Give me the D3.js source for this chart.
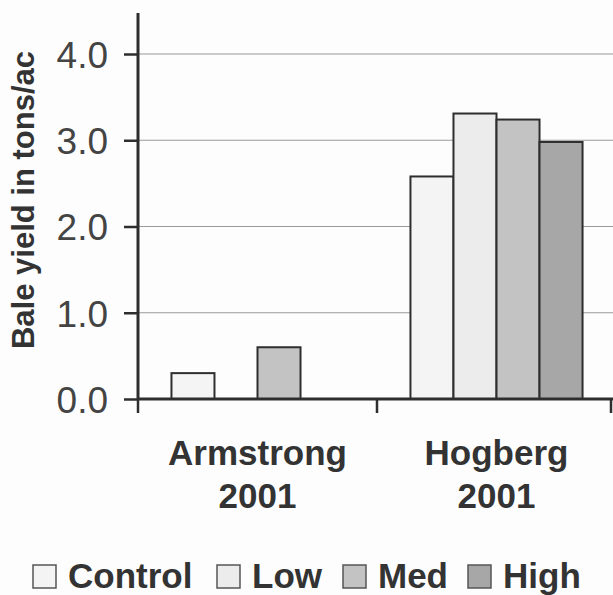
<!DOCTYPE html>
<html><head><meta charset="utf-8">
<script src="https://cdn.jsdelivr.net/npm/d3@7"></script>
<style>html,body{margin:0;padding:0;background:#fdfdfd;}svg{display:block;font-family:"Liberation Sans",Arial,sans-serif;}</style>
</head><body>
<script>
const categories = ["Armstrong 2001", "Hogberg 2001"];
const series = ["Control", "Low", "Med", "High"];
const control = [0.3, 2.58];
const low = [0, 3.31];
const med = [0.6, 3.24];
const high = [0, 2.98];
const yTicks = [0, 1, 2, 3, 4];
const colors = ["#f4f4f4", "#ececec", "#c3c3c3", "#a7a7a7"];

const values = [control, low, med, high];
const W = 613, H = 595;
const svg = d3.select("body").append("svg").attr("width", W).attr("height", H);
svg.append("rect").attr("width", W).attr("height", H).attr("fill", "#fdfdfd");

const x0 = d3.scaleBand().domain(categories).range([138, 616]).paddingInner(0.28).paddingOuter(0.14);
const x1 = d3.scaleBand().domain(series).range([0, x0.bandwidth()]);
const y = d3.scaleLinear().domain([0, 4]).range([399, 54]);

// gridlines
svg.append("g").selectAll("line").data(yTicks.slice(1)).join("line")
  .attr("x1", 138).attr("x2", W).attr("y1", d => y(d)).attr("y2", d => y(d))
  .attr("stroke", "#9a9a9a").attr("stroke-width", 1.2);

// bars
const rows = [];
categories.forEach((c, i) => series.forEach((s, j) => { if (values[j][i] > 0) rows.push({c, s, v: values[j][i], j}); }));
svg.append("g").selectAll("rect").data(rows).join("rect")
  .attr("x", d => x0(d.c) + x1(d.s)).attr("width", x1.bandwidth())
  .attr("y", d => y(d.v)).attr("height", d => y(0) - y(d.v))
  .attr("fill", d => colors[d.j]).attr("stroke", "#2e2e2e").attr("stroke-width", 2);

// y axis
const yAxis = svg.append("g").attr("transform", "translate(138,0)")
  .call(d3.axisLeft(y).tickValues(yTicks).tickFormat(d3.format(".1f")).tickSize(14).tickPadding(16));
yAxis.select(".domain").remove();
yAxis.selectAll(".tick line").attr("stroke", "#2e2e2e").attr("stroke-width", 2.5);
yAxis.selectAll(".tick text").attr("font-size", 37).attr("fill", "#444").attr("dy", "0.36em");
svg.append("line").attr("x1", 138).attr("x2", 138).attr("y1", 13).attr("y2", 400)
  .attr("stroke", "#2e2e2e").attr("stroke-width", 3);

// x axis
svg.append("line").attr("x1", 138).attr("x2", W).attr("y1", 399).attr("y2", 399)
  .attr("stroke", "#2e2e2e").attr("stroke-width", 3);
const xTickPos = [138, x0(categories[1]) - x0.step() * x0.paddingInner() / 2, 611];
svg.append("g").selectAll("line").data(xTickPos).join("line")
  .attr("x1", d => d).attr("x2", d => d).attr("y1", 399).attr("y2", 413)
  .attr("stroke", "#2e2e2e").attr("stroke-width", 2.5);

// category labels
const cl = svg.append("g").selectAll("text").data(categories).join("text")
  .attr("text-anchor", "middle").attr("font-weight", "bold").attr("font-size", 35).attr("fill", "#333")
  .attr("x", d => x0(d) + x0.bandwidth() / 2);
cl.append("tspan").attr("x", d => x0(d) + x0.bandwidth() / 2).attr("y", 465).text(d => d.split(" ")[0]);
cl.append("tspan").attr("x", d => x0(d) + x0.bandwidth() / 2).attr("y", 508).text(d => d.split(" ")[1]);

// y title
svg.append("text").attr("transform", "translate(34,200) rotate(-90)")
  .attr("text-anchor", "middle").attr("font-weight", "bold").attr("font-size", 31).attr("fill", "#333")
  .text("Bale yield in tons/ac");

// legend
const legX = [33, 217, 343, 468];
const leg = svg.append("g").selectAll("g").data(series).join("g")
  .attr("transform", (d, i) => `translate(${legX[i]},565)`);
leg.append("rect").attr("width", 23).attr("height", 23).attr("fill", (d, i) => colors[i])
  .attr("stroke", "#555").attr("stroke-width", 1.5);
leg.append("text").attr("x", 35).attr("y", 23).attr("font-weight", "bold").attr("font-size", 35)
  .attr("fill", "#333").text(d => d);
</script>
</body></html>
